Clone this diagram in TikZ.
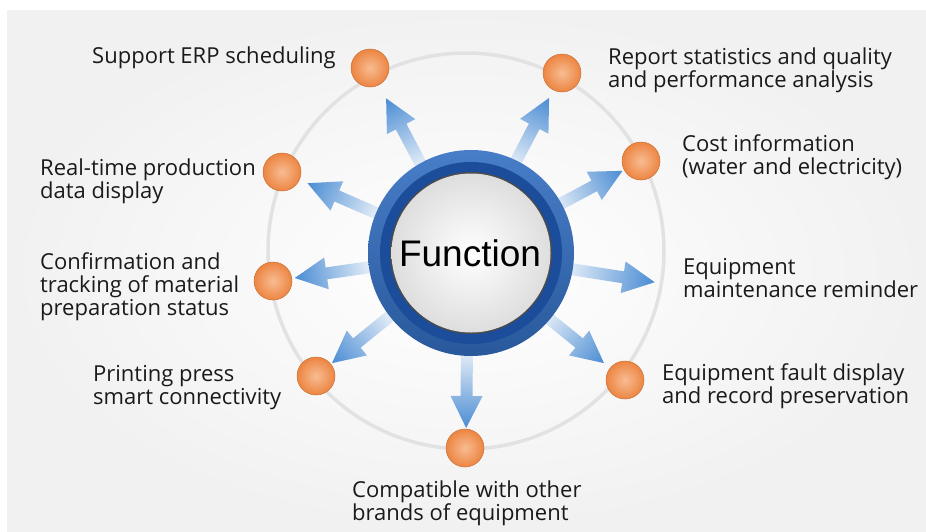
\documentclass[tikz,border=0pt]{standalone}
\usepackage{fontspec}
\setmainfont{Open Sans}
\newfontfamily\arialfont{Liberation Sans}
\definecolor{dotin}{HTML}{F8BC92}
\definecolor{dotout}{HTML}{EC8542}
\definecolor{ringA}{HTML}{336FC2}
\definecolor{ringB}{HTML}{1B4D9A}
\definecolor{arrowtip}{HTML}{4A8CD3}
\definecolor{arrowbase}{HTML}{EDF3FA}
\definecolor{orbitc}{HTML}{E2E2E2}
\definecolor{panelc}{HTML}{F1F1F1}
\definecolor{txt}{HTML}{1A1A1A}
\tikzset{
  dotnode/.style={circle, minimum size=38pt, inner sep=0pt, draw=dotout!85!black, line width=0.5pt,
    shade, inner color=dotin, outer color=dotout},
  label/.style={anchor=west, inner sep=0pt, align=left, text=txt,
    font=\fontsize{22}{23}\selectfont},
}
\newcommand{\fatarrow}[3]{%
  \begin{scope}[transform canvas={shift={(ac)},rotate=#1}]
    \shade[left color=arrowbase, middle color=arrowtip!55!arrowbase, right color=arrowtip]
      (#2,-6) -- (#3-32,-6) -- (#3-32,-16) -- (#3,0) -- (#3-32,16) -- (#3-32,6) -- (#2,6) -- cycle;
  \end{scope}}
\begin{document}
\begin{tikzpicture}[x=1pt, y=-1pt]
\useasboundingbox (0,0) rectangle (926,531);
\fill[white] (0,0) rectangle (926,531);
\shade[inner color=white, outer color=panelc] (7,10) rectangle (926,531);
% orbit
\draw[orbitc, line width=3.5pt] (466,251) circle [radius=198pt];
\coordinate (ac) at (468,253);
% arrows
\fatarrow{117.9}{95}{175}
\fatarrow{62.4}{95}{175}
\fatarrow{28.0}{95}{175}
\fatarrow{-8.9}{95}{189}
\fatarrow{-39.0}{95}{175}
\fatarrow{-90.6}{95}{175}
\fatarrow{219.0}{95}{175}
\fatarrow{188.2}{95}{175}
\fatarrow{156.5}{95}{175}
% central button
\shade[top color=ringA!90!white, bottom color=ringA!80!black] (471,253) circle [radius=103pt];
\fill[ringB] (471,253) circle [radius=91pt];
\fill[black!70] (471,253) circle [radius=81pt];
\shade[inner color=white, outer color=black!13] (471,253) circle [radius=79.5pt];
\node[font=\arialfont\fontsize{37}{40}\selectfont, text=black, inner sep=0pt] (fn) at (470,253) {Function};
% dots
\node[dotnode] (d1) at (370,68) {};
\node[dotnode] (d2) at (562,73) {};
\node[dotnode] (d3) at (641,161) {};
\node[dotnode] (d4) at (625,380) {};
\node[dotnode] (d5) at (465,448) {};
\node[dotnode] (d6) at (316,376) {};
\node[dotnode] (d7) at (273,281) {};
\node[dotnode] (d8) at (282,172) {};
% labels
\node[label] (t1) at (92,58) {Support ERP scheduling};
\node[label] (t2) at (608,70) {Report statistics and quality\\and performance analysis};
\node[label] (t3) at (682,157) {Cost information\\(water and electricity)};
\node[label] (t4) at (683,278) {Equipment\\maintenance reminder};
\node[label] (t5) at (662,386) {Equipment fault display\\and record preservation};
\node[label] (t6) at (352,503) {Compatible with other\\brands of equipment};
\node[label] (t7) at (93,388) {Printing press\\smart connectivity};
\node[label] (t8) at (40,287) {Confirmation and\\tracking of material\\preparation status};
\node[label] (t9) at (40,181) {Real-time production\\data display};
\end{tikzpicture}
\end{document}
